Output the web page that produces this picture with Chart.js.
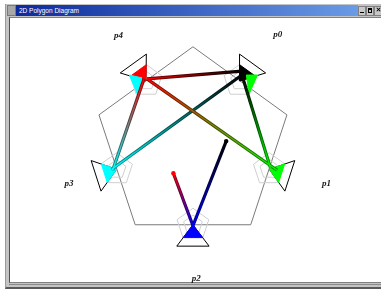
<!DOCTYPE html>
<html>
<head>
<meta charset="utf-8">
<title>2D Polygon Diagram</title>
<script src="https://cdn.jsdelivr.net/npm/chart.js@4.4.0/dist/chart.umd.min.js"></script>
<style>
html, body { margin: 0; padding: 0; background: #fff; }
#page { position: relative; width: 381px; height: 291px; overflow: hidden; }
.frame { position: absolute; left: 5px; top: 4px; width: 400px; height: 283px; background: #c4c4c4;
         border-left: 1px solid #9a9a9a; border-bottom: 2px solid #5a5a5a; }
.icon { position: absolute; left: 7px; top: 5px; width: 7px; height: 9px; background: #a8a8a8; border: 1px solid #7a7a7a; }
.title { position: absolute; left: 16px; top: 5px; width: 342px; height: 11px;
         background: linear-gradient(to right, #0c2a9c, #6a9be6); color: #fff;
         font: 6.5px "Liberation Sans", Arial, sans-serif; line-height: 11px; }
.title span { position: absolute; left: 3px; top: 0; }
.btn { position: absolute; top: 6px; width: 6px; height: 8px; background: #c8c8c8; border: 1px solid #808080; }
.btn i { position: absolute; display: block; background: #000; }
.content { position: absolute; left: 9px; top: 17px; width: 400px; height: 264px; background: #fff;
           border-left: 1px solid #505050; border-top: 1px solid #808080; border-bottom: 1px solid #808080; }
.ridge { position: absolute; left: 9px; top: 284px; width: 400px; height: 1px; background: #8a8a8a; }
#diagram { position: absolute; left: 0; top: 0; z-index: 5; }
</style>
</head>
<body>
<div id="page">
  <div class="frame"></div>
  <div class="icon"></div>
  <div class="title"><span>2D Polygon Diagram</span></div>
  <div class="btn" style="left:358px"><i style="left:1px;top:5px;width:4px;height:1px"></i></div>
  <div class="btn" style="left:366px"><i style="left:1px;top:1px;width:4px;height:5px;background:none;border:1px solid #000;border-top-width:2px;box-sizing:border-box"></i></div>
  <div class="btn" style="left:374px"><i style="left:1px;top:2px;width:5px;height:1px;transform:rotate(45deg)"></i><i style="left:1px;top:2px;width:5px;height:1px;transform:rotate(-45deg)"></i></div>
  <div class="content"></div>
  <div class="ridge"></div>
  <canvas id="diagram" width="381" height="291"></canvas>
</div>
<script>
// nodes of the diagram (diagram units, centre of the big pentagon at 0,0, y up)
var nodeNames = ['p0', 'p1', 'p2', 'p3', 'p4'];
var nodeColors = ['#000000', '#00ff00', '#0000ff', '#00ffff', '#ff0000'];
var nodeX = [48, 78, 0, -78, -48];
var nodeY = [66, -25, -82, -25, 66];
var labelX = [86.5, 136.5, 3.5, -126.5, -76];
var labelY = [113, -40, -137, -40, 112];

// the big grey pentagon
var outlineX = [0, 96, 59, -59, -96];
var outlineY = [101, 31, -82, -82, 31];

// connections between nodes
var edgeFrom = [4, 4, 4, 0, 0, 2, 2];
var edgeTo = [0, 1, 3, 3, 1, 4, 0];
var edgeX0 = [-47, -47, -50, 50, 50, 0, 0];
var edgeY0 = [68, 68, 68, 72, 72, -83, -83];
var edgeX1 = [50, 86, -82, -83, 79, -20, 34];
var edgeY1 = [76, -26, -26, -25, -23, -29, 4];
var openEdges = [5, 6];

// extra coloured wedges next to p4 and p0
var wedgeColorNode = [3, 1];
var wedgeX = [[-65, -52, -57], [54.5, 66, 57.5]];
var wedgeY = [[72, 69, 53], [72, 72, 53]];

function pts(xs, ys) {
    var out = [];
    for (var i = 0; i < xs.length; i++) out.push({x: xs[i], y: ys[i]});
    out.push({x: xs[0], y: ys[0]});
    return out;
}

function shapeDs(data, border, fillColor, width, order) {
    return {
        data: data,
        showLine: true,
        borderColor: border,
        borderWidth: width,
        backgroundColor: fillColor || 'transparent',
        fill: fillColor ? 'shape' : false,
        pointRadius: 0,
        tension: 0,
        order: order
    };
}

// darken a #rrggbb colour
function shade(hex, k) {
    var r = parseInt(hex.substr(1, 2), 16), g = parseInt(hex.substr(3, 2), 16), b = parseInt(hex.substr(5, 2), 16);
    return 'rgb(' + Math.round(r * k) + ',' + Math.round(g * k) + ',' + Math.round(b * k) + ')';
}

var datasets = [];

// big pentagon
datasets.push(shapeDs(pts(outlineX, outlineY), '#7a7a7a', null, 1, 30));

nodeNames.forEach(function(name, i) {
    var len = Math.sqrt(nodeX[i] * nodeX[i] + nodeY[i] * nodeY[i]);
    var dx = nodeX[i] / len, dy = nodeY[i] / len;
    var px = -dy, py = dx;

    // two small pentagons, one corner facing the centre
    [17, 10].forEach(function(r) {
        var a0 = Math.atan2(-dy, -dx);
        var xs = [], ys = [];
        for (var k = 0; k < 5; k++) {
            var a = a0 + k * 2 * Math.PI / 5;
            xs.push(nodeX[i] + r * Math.cos(a));
            ys.push(nodeY[i] + r * Math.sin(a));
        }
        datasets.push(shapeDs(pts(xs, ys), '#cfcfcf', null, 1, 25));
    });

    // outward triangle
    var bx = nodeX[i] + 22 * dx, by = nodeY[i] + 22 * dy;
    var tx = [nodeX[i], bx + 16.5 * px, bx - 16.5 * px];
    var ty = [nodeY[i], by + 16.5 * py, by - 16.5 * py];
    datasets.push(shapeDs(pts(tx, ty), '#000000', '#ffffff', 1, 20));

    // coloured part of the triangle
    var f = 0.6;
    var fx = [nodeX[i], nodeX[i] + f * (tx[1] - nodeX[i]), nodeX[i] + f * (tx[2] - nodeX[i])];
    var fy = [nodeY[i], nodeY[i] + f * (ty[1] - nodeY[i]), nodeY[i] + f * (ty[2] - nodeY[i])];
    datasets.push(shapeDs(pts(fx, fy), nodeColors[i], nodeColors[i], 1, 18));
});

wedgeColorNode.forEach(function(n, i) {
    datasets.push(shapeDs(pts(wedgeX[i], wedgeY[i]), nodeColors[n], nodeColors[n], 1, 17));
});

function edgeGradient(i, k) {
    return function(context) {
        var chart = context.chart;
        if (!chart.chartArea) return nodeColors[edgeFrom[i]];
        var sx = chart.scales.x, sy = chart.scales.y;
        var g = chart.ctx.createLinearGradient(
            sx.getPixelForValue(edgeX0[i]), sy.getPixelForValue(edgeY0[i]),
            sx.getPixelForValue(edgeX1[i]), sy.getPixelForValue(edgeY1[i]));
        g.addColorStop(0, shade(nodeColors[edgeFrom[i]], k));
        g.addColorStop(1, shade(nodeColors[edgeTo[i]], k));
        return g;
    };
}

// each edge: a darker band with the bright gradient running inside it
edgeFrom.forEach(function(from, i) {
    var seg = [{x: edgeX0[i], y: edgeY0[i]}, {x: edgeX1[i], y: edgeY1[i]}];
    datasets.push({
        data: seg, showLine: true, borderColor: edgeGradient(i, 0.55),
        borderWidth: 3.2, pointRadius: 0, fill: false, order: 11
    });
    datasets.push({
        data: seg, showLine: true, borderColor: edgeGradient(i, 1),
        borderWidth: 1.4, pointRadius: 0, fill: false, order: 10
    });
});

// dots at the end of the open edges
datasets.push({
    data: openEdges.map(function(e) { return {x: edgeX1[e], y: edgeY1[e]}; }),
    pointRadius: 2.2,
    pointBorderWidth: 0,
    pointBackgroundColor: openEdges.map(function(e) { return nodeColors[edgeTo[e]]; }),
    showLine: false,
    order: 5
});

var labelPlugin = {
    id: 'nodeLabels',
    afterDatasetsDraw: function(chart) {
        var ctx = chart.ctx, sx = chart.scales.x, sy = chart.scales.y;
        ctx.save();
        ctx.font = 'italic bold 9px "Liberation Serif", serif';
        ctx.fillStyle = '#1a1a1a';
        ctx.textAlign = 'center';
        ctx.textBaseline = 'middle';
        nodeNames.forEach(function(n, i) {
            ctx.fillText(n, sx.getPixelForValue(labelX[i]), sy.getPixelForValue(labelY[i]));
        });
        ctx.restore();
    }
};

new Chart(document.getElementById('diagram').getContext('2d'), {
    type: 'scatter',
    data: { datasets: datasets },
    options: {
        responsive: false,
        animation: false,
        devicePixelRatio: 1,
        layout: { padding: 0 },
        plugins: { legend: { display: false }, tooltip: { enabled: false } },
        scales: {
            x: { type: 'linear', min: -193, max: 188, display: false },
            y: { type: 'linear', min: -146, max: 145, display: false }
        }
    },
    plugins: [labelPlugin]
});
</script>
</body>
</html>
